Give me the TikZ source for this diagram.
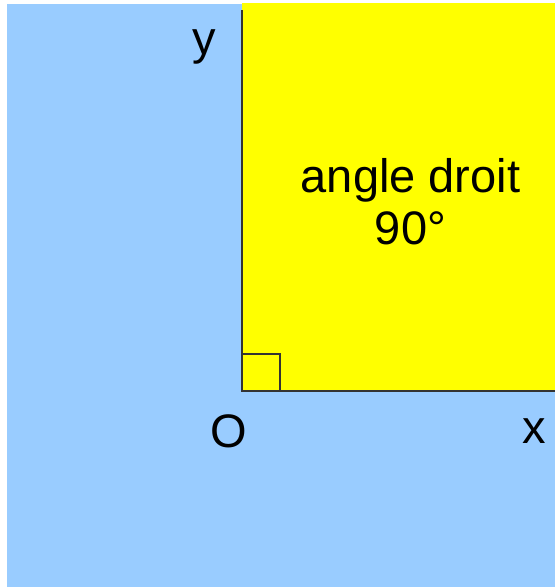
\documentclass[tikz,border=0pt]{standalone}
\usepackage{fontspec}
\setmainfont{Liberation Sans}
\definecolor{bgblue}{HTML}{99CCFF}
\definecolor{yel}{HTML}{FFFF00}
\begin{document}
\begin{tikzpicture}[x=1pt,y=-1pt,
  lbl/.style={inner sep=0pt,anchor=base,font=\fontsize{47}{54}\selectfont},
  axis/.style={line width=1.3pt,draw=black!80}]
\useasboundingbox (0,0) rectangle (555,587);
\fill[bgblue] (7,4) rectangle (555,587);
\fill[yel] (242,3) rectangle (555,391);
\coordinate (O) at (242,391);
\coordinate (Y) at (242,10);
\coordinate (X) at (555,391);
\draw[axis] (Y) -- (O) -- (X);
\draw[axis] (242,354) rectangle (280,391);
\node[lbl] (ly) at (204,54) {y};
\node[lbl] (t1) at (410.5,192) {angle droit};
\node[lbl] (t2) at (410.5,244) {90°};
\node[lbl] (lo) at (229,447) {O};
\node[lbl] (lx) at (534,443) {x};
\end{tikzpicture}
\end{document}
